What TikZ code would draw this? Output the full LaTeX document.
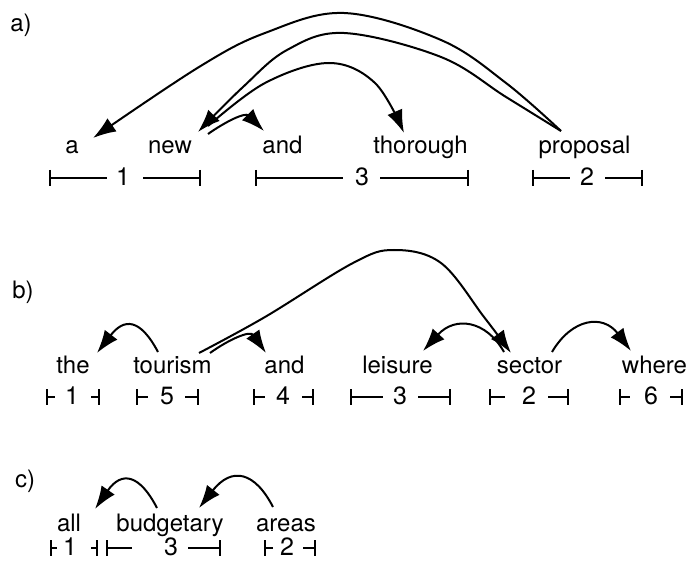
\documentclass[tikz,border=0pt]{standalone}
\usepackage{fontspec}
\setmainfont{TeX Gyre Heros}
\usetikzlibrary{arrows.meta}
% span bar: #1 left tick, #2 end of left part, #3 start of right part,
% #4 right tick, #5 number x, #6 y, #7 number
\newcommand\spanbar[7]{%
  \draw[barline] (#1,#6) -- (#2,#6);
  \draw[barline] (#3,#6) -- (#4,#6);
  \draw[barline] (#1,{#6-8}) -- (#1,{#6+8});
  \draw[barline] (#4,{#6-8}) -- (#4,{#6+8});
  \node[num] at (#5,{#6-1}) {#7};
}
\begin{document}
\begin{tikzpicture}[x=1pt,y=-1pt,
  word/.style={anchor=base, inner sep=0pt, font=\fontsize{24}{28}\selectfont},
  tag/.style={inner sep=0pt, font=\fontsize{24}{28}\selectfont},
  num/.style={inner sep=0pt, font=\fontsize{25}{29}\selectfont},
  dep/.style={line width=2pt, -{Latex[length=23pt,width=16pt]}},
  barline/.style={line width=2pt},
]
\useasboundingbox (0,0) rectangle (688,561);

% ---------- a) ----------
\node[tag] (la) at (21,25) {a)};
\node[word] (a1) at (72,154) {a};
\node[word] (a2) at (170,154) {new};
\node[word] (a3) at (282.5,154) {and};
\node[word] (a4) at (420.5,154) {thorough};
\node[word] (a5) at (584.5,154) {proposal};

\coordinate (a5s) at (561,131);
\coordinate (a2s) at (208,126);
\coordinate (a2t) at (208,134);
\coordinate (a1e) at (93,138);
\coordinate (a2e) at (198,132);
\coordinate (a3e) at (264,131);
\coordinate (a4e) at (404,133);

\draw[dep] plot[smooth, tension=0.6] coordinates
  {(a5s) (506,83) (441,40) (344,13) (265,33) (199,67) (a1e)};
\draw[dep] plot[smooth, tension=0.6] coordinates
  {(a5s) (506,97) (441,57) (344,33) (287,50) (243,87) (a2e)};
\draw[dep] plot[smooth, tension=0.6] coordinates
  {(a2s) (265,83) (329,63) (375,83) (a4e)};
\draw[dep] (a2t) .. controls (225,122) and (245,112) .. (a3e);

\spanbar{50}{107}{143}{200}{123}{178}{1}
\spanbar{256}{343}{380}{468}{362}{178}{3}
\spanbar{533}{570}{605}{642}{587}{178}{2}

% ---------- b) ----------
\node[tag] (lb) at (23,292) {b)};
\node[word] (b1) at (73,373) {the};
\node[word] (b2) at (172.5,373) {tourism};
\node[word] (b3) at (284.5,373) {and};
\node[word] (b4) at (397.5,373) {leisure};
\node[word] (b5) at (529.5,373) {sector};
\node[word] (b6) at (654.5,373) {where};

\coordinate (b2s) at (158,352);
\coordinate (b2u) at (199,353);
\coordinate (b2v) at (210,353);
\coordinate (b5s) at (504,352);
\coordinate (b5u) at (552,352);
\coordinate (b1e) at (97,353);
\coordinate (b3e) at (266,353);
\coordinate (b4e) at (423,351);
\coordinate (b5e) at (511,353);
\coordinate (b6e) at (631,351);

\draw[dep] (b2s) .. controls (140,318) and (124,318) .. (b1e);
\draw[dep] plot[smooth, tension=0.6] coordinates
  {(b2u) (265,317) (353,263) (394,250) (441,263) (484,317) (b5e)};
\draw[dep] (b2v) .. controls (228,340) and (250,330) .. (b3e);
\draw[dep] (b5s) .. controls (486,320) and (455,316) .. (b4e);
\draw[dep] (b5u) .. controls (572,318) and (603,314) .. (b6e);

\spanbar{47}{55}{91}{99}{72}{397}{1}
\spanbar{137}{148}{185}{198}{167}{397}{5}
\spanbar{254}{265}{302}{313}{283}{397}{4}
\spanbar{351}{383}{418}{450}{400}{397}{3}
\spanbar{490}{505}{548}{568}{529}{397}{2}
\spanbar{620}{630}{670}{682}{651}{397}{6}

% ---------- c) ----------
\node[tag] (lc) at (25,481) {c)};
\node[word] (c1) at (69,531) {all};
\node[word] (c2) at (170,531) {budgetary};
\node[word] (c3) at (286,531) {areas};

\coordinate (c2s) at (157,508);
\coordinate (c3s) at (273,507);
\coordinate (c1e) at (95,509);
\coordinate (c2e) at (199,508);

\draw[dep] (c2s) .. controls (140,475) and (122,470) .. (c1e);
\draw[dep] (c3s) .. controls (255,472) and (232,466) .. (c2e);

\spanbar{51}{57}{91}{97}{70}{548}{1}
\spanbar{107}{132}{188}{220}{171}{548}{3}
\spanbar{265}{273}{303}{315}{287}{548}{2}
\end{tikzpicture}
\end{document}
